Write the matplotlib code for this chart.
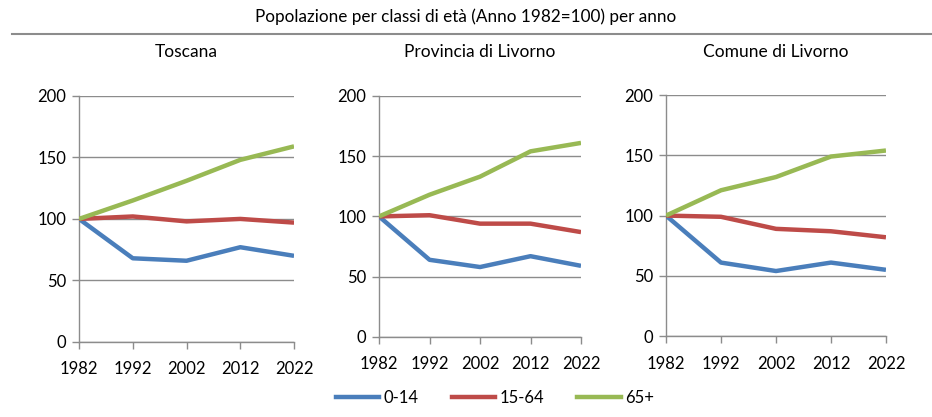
import matplotlib
matplotlib.use('Agg')
import matplotlib.pyplot as plt
from matplotlib.lines import Line2D

plt.rcParams['font.family'] = ['Lato', 'DejaVu Sans']

years = [1982, 1992, 2002, 2012, 2022]
panels = ['Toscana', 'Provincia di Livorno', 'Comune di Livorno']
series_names = ['0-14', '15-64', '65+']
colors = ['#4A7EBB', '#BE4B48', '#98B954']

toscana_0_14 = [100, 68, 66, 77, 70]
toscana_15_64 = [100, 102, 98, 100, 97]
toscana_65 = [100, 115, 131, 148, 159]

provincia_0_14 = [100, 64, 58, 67, 59]
provincia_15_64 = [100, 101, 94, 94, 87]
provincia_65 = [100, 118, 133, 154, 161]

comune_0_14 = [100, 61, 54, 61, 55]
comune_15_64 = [100, 99, 89, 87, 82]
comune_65 = [100, 121, 132, 149, 154]

data = [
    [toscana_0_14, toscana_15_64, toscana_65],
    [provincia_0_14, provincia_15_64, provincia_65],
    [comune_0_14, comune_15_64, comune_65],
]

fig = plt.figure(figsize=(9.32, 4.17), dpi=100)

boxes = [
    [0.0848, 0.180, 0.2307, 0.590],
    [0.4067, 0.192, 0.2167, 0.578],
    [0.7146, 0.194, 0.2360, 0.578],
]

for box, name, vals in zip(boxes, panels, data):
    ax = fig.add_axes(box)
    for v, c in zip(vals, colors):
        ax.plot(years, v, color=c, lw=3.2, solid_capstyle='butt', zorder=3)
    ax.set_xlim(1982, 2022)
    ax.set_ylim(0, 200)
    ax.set_xticks(years)
    ax.set_yticks([0, 50, 100, 150, 200])
    ax.grid(axis='y', color='#8C8C8C', lw=1.0)
    ax.set_axisbelow(True)
    for s in ['top', 'right']:
        ax.spines[s].set_visible(False)
    for s in ['left', 'bottom']:
        ax.spines[s].set_color('#8C8C8C')
        ax.spines[s].set_linewidth(1.0)
    ax.tick_params(axis='both', colors='#8C8C8C', labelcolor='black',
                   labelsize=12, length=5, width=1.0)
    ax.tick_params(axis='y', pad=4)
    ax.tick_params(axis='x', pad=9)
    fig.text(box[0] + box[2] / 2, 1 - 52 / 417, name, ha='center', va='center', fontsize=12.5)

fig.text(0.5, 1 - 17 / 417, 'Popolazione per classi di età (Anno 1982=100) per anno',
         ha='center', va='center', fontsize=12.3)
fig.add_artist(Line2D([12 / 932, 1.0], [1 - 34 / 417, 1 - 34 / 417],
                      color='#8C8C8C', lw=1.5, transform=fig.transFigure))

handles = [Line2D([0], [0], color=c, lw=3.2) for c in colors]
fig.legend(handles, series_names, loc='center', bbox_to_anchor=(0.531, 1 - 398 / 417),
           ncol=3, frameon=False, fontsize=12, handlelength=2.6, handletextpad=0.25,
           columnspacing=2.0)

fig.savefig('out.png', dpi=100)
